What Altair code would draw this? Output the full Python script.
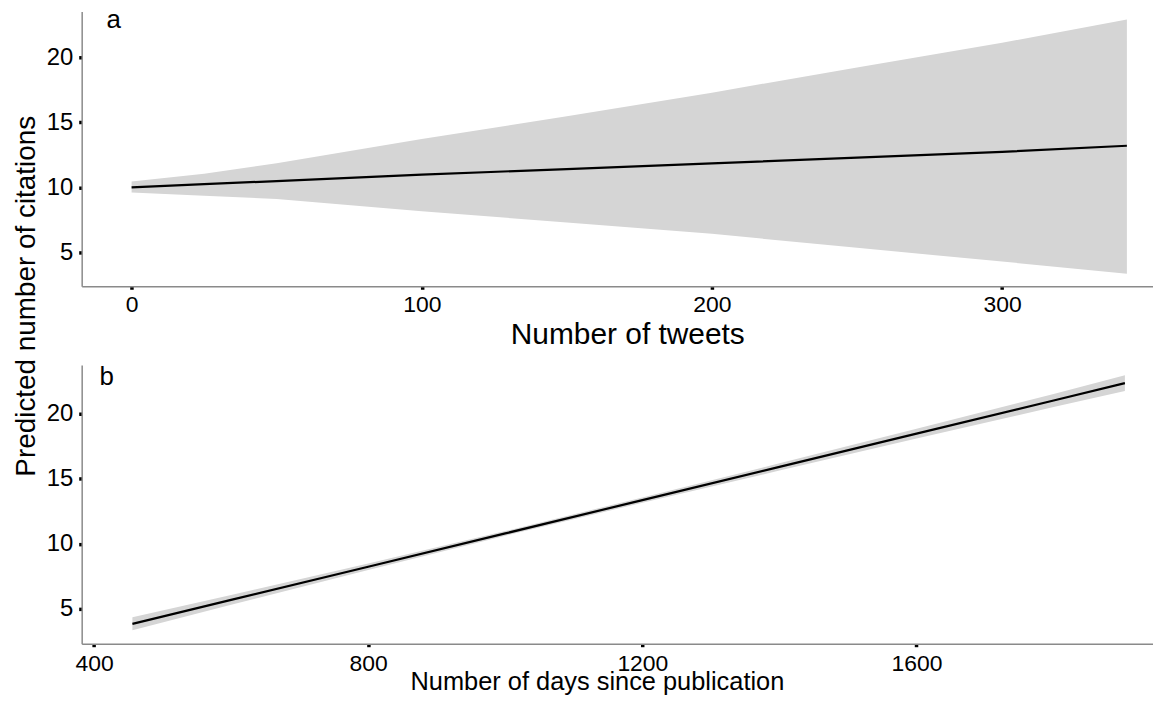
import altair as alt
import pandas as pd

# ---- Panel a: number of tweets ----
tweets = [0, 25, 50, 100, 150, 200, 250, 300, 343]
fit_a = [10.0, 10.24, 10.48, 10.97, 11.40, 11.84, 12.28, 12.72, 13.19]
upper_a = [10.45, 11.05, 11.85, 13.70, 15.45, 17.27, 19.20, 21.10, 22.89]
lower_a = [9.60, 9.35, 9.10, 8.16, 7.30, 6.43, 5.35, 4.30, 3.37]

# ---- Panel b: days since publication ----
days = [456, 600, 800, 1000, 1200, 1400, 1600, 1800, 1904]
fit_b = [3.85, 5.69, 8.24, 10.80, 13.36, 15.91, 18.47, 21.02, 22.35]
upper_b = [4.35, 6.07, 8.49, 10.98, 13.56, 16.19, 18.85, 21.52, 22.95]
lower_b = [3.35, 5.31, 7.99, 10.62, 13.16, 15.63, 18.09, 20.52, 21.75]

x_ticks_a = [0, 100, 200, 300]
x_ticks_b = [400, 800, 1200, 1600]
y_ticks = [5, 10, 15, 20]

FONT = "Liberation Sans"
BAND = "#d5d5d5"

df_a = pd.DataFrame({"tweets": tweets, "fit": fit_a, "lo": lower_a, "hi": upper_a})
df_b = pd.DataFrame({"days": days, "fit": fit_b, "lo": lower_b, "hi": upper_b})

W = 1076


def y_axis():
    return alt.Axis(values=y_ticks, title=None, grid=False, labelFontSize=24,
                    labelColor="black", labelFont=FONT, tickSize=3, tickWidth=3.5,
                    tickColor="black", labelPadding=6, domainColor="#8a8a8a",
                    domainWidth=1.5)


def x_axis(vals, title, tsize, tx, ty, lpad):
    return alt.Axis(values=vals, title=title, grid=False, labelFontSize=23,
                    labelColor="black", labelFont=FONT, tickSize=3, tickWidth=3.5,
                    tickColor="black", labelPadding=lpad, domainColor="#8a8a8a",
                    domainWidth=1.5, titleFontSize=tsize, titleFont=FONT,
                    titleFontWeight="normal", titleColor="black", titleX=tx,
                    titleY=ty, titleAlign="center", titleBaseline="alphabetic",
                    labelFlush=False, format="d")


ya_scale = alt.Scale(domain=[2.4, 23.5], nice=False, zero=False)
xa = alt.X("tweets:Q", scale=alt.Scale(domain=[-17.2, 352], nice=False, zero=False),
           axis=x_axis(x_ticks_a, "Number of tweets", 30, 548, 57, 4))

band_a = alt.Chart(df_a).mark_area(color=BAND, opacity=1).encode(
    x=xa, y=alt.Y("lo:Q", scale=ya_scale, axis=y_axis()), y2="hi:Q")
line_a = alt.Chart(df_a).mark_line(color="black", strokeWidth=2.2).encode(
    x=xa, y=alt.Y("fit:Q", scale=ya_scale, axis=y_axis()))

lab_a = alt.Chart(pd.DataFrame({"t": ["a"]})).mark_text(
    font=FONT, fontSize=26, align="left", baseline="alphabetic", color="black"
).encode(text="t:N", x=alt.value(25), y=alt.value(17))

ytitle = alt.Chart(pd.DataFrame({"t": ["Predicted number of citations"]})).mark_text(
    font=FONT, fontSize=28, align="center", baseline="alphabetic", angle=270,
    color="black"
).encode(text="t:N", x=alt.value(-47), y=alt.value(286))

panel_a = alt.layer(band_a, line_a, lab_a, ytitle).properties(width=W, height=276)

xb = alt.X("days:Q", scale=alt.Scale(domain=[382, 1945], nice=False, zero=False),
           axis=x_axis(x_ticks_b, "Number of days since publication", 25.5, 517.5, 46, 6))
yb_scale = alt.Scale(domain=[2.32, 23.75], nice=False, zero=False)

band_b = alt.Chart(df_b).mark_area(color=BAND, opacity=1).encode(
    x=xb, y=alt.Y("lo:Q", scale=yb_scale, axis=y_axis()), y2="hi:Q")
line_b = alt.Chart(df_b).mark_line(color="black", strokeWidth=2.2).encode(
    x=xb, y=alt.Y("fit:Q", scale=yb_scale, axis=y_axis()))

lab_b = alt.Chart(pd.DataFrame({"t": ["b"]})).mark_text(
    font=FONT, fontSize=26, align="left", baseline="alphabetic", color="black"
).encode(text="t:N", x=alt.value(18), y=alt.value(20))

panel_b = alt.layer(band_b, line_b, lab_b).properties(width=W, height=280)

chart = alt.vconcat(panel_a, panel_b, spacing=79, bounds="flush").resolve_scale(
    x="independent", y="independent"
).properties(
    padding={"left": 5, "top": -2, "right": 0, "bottom": 0},
    background="white"
).configure_view(strokeWidth=0)

chart.save("out.html", embed_options={"renderer": "svg", "actions": False})
